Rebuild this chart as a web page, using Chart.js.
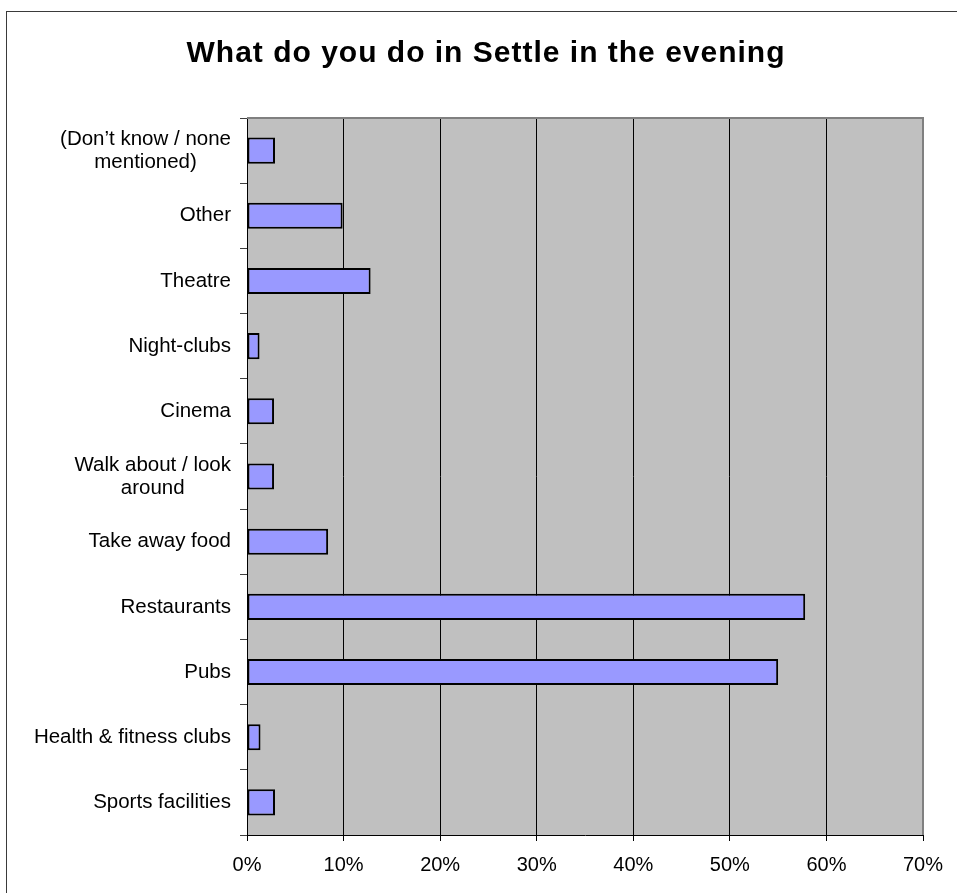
<!DOCTYPE html>
<html>
<head>
<meta charset="utf-8">
<script src="https://cdn.jsdelivr.net/npm/chart.js@4/dist/chart.umd.min.js"></script>
<style>
  html, body { margin: 0; padding: 0; background: #ffffff; overflow: hidden; }
  #wrap { position: relative; width: 957px; height: 893px; }
  #frame { position: absolute; left: 6px; top: 11px; width: 2000px; height: 2000px;
           border-left: 1px solid #3a3a3a; border-top: 1px solid #3a3a3a; }
  canvas { position: absolute; left: 0; top: 0; }
</style>
</head>
<body>
<div id="wrap">
  <div id="frame"></div>
  <canvas id="c" width="957" height="893"></canvas>
</div>
<script>
const titleText = 'What do you do in Settle in the evening';
const categories = [
  ['(Don\u2019t know / none', 'mentioned)'],
  'Other',
  'Theatre',
  'Night-clubs',
  'Cinema',
  ['Walk about / look', 'around'],
  'Take away food',
  'Restaurants',
  'Pubs',
  'Health & fitness clubs',
  'Sports facilities'
];
const percentValues = [2.9, 9.9, 12.8, 1.3, 2.8, 2.8, 8.4, 57.8, 55.0, 1.4, 2.9];
const xTickMin = 0;
const xTickMax = 70;
const xTickStep = 10;

const FONT = "'Liberation Sans', Arial, sans-serif";

const plotBg = {
  id: 'plotBg',
  beforeDraw(chart) {
    const a = chart.chartArea, ctx = chart.ctx;
    ctx.save();
    ctx.fillStyle = '#C0C0C0';
    ctx.fillRect(a.left, a.top, a.right - a.left, a.bottom - a.top);
    ctx.restore();
    // center multi-line y labels as blocks
    const ys = chart.scales.y;
    const items = ys.getLabelItems();
    items.forEach(it => {
      if (Array.isArray(it.label) && !it._centered) {
        ctx.save();
        ctx.font = it.font.string;
        let w = 0;
        it.label.forEach(l => { w = Math.max(w, ctx.measureText(l).width); });
        ctx.restore();
        it.options.textAlign = 'center';
        it.options.translation[0] -= w / 2;
        it._centered = true;
      }
    });
  },
  beforeDatasetsDraw(chart) {
    const a = chart.chartArea, ctx = chart.ctx;
    ctx.save();
    ctx.strokeStyle = '#808080';
    ctx.lineWidth = 2;
    ctx.beginPath();
    ctx.moveTo(a.left, a.top);
    ctx.lineTo(a.right, a.top);
    ctx.lineTo(a.right, a.bottom);
    ctx.stroke();
    ctx.restore();
  }
};

const chart = new Chart(document.getElementById('c'), {
  type: 'bar',
  data: {
    labels: categories,
    datasets: [{
      data: percentValues,
      backgroundColor: '#9999FF',
      borderColor: '#000000',
      borderWidth: 2,
      borderSkipped: false,
      barPercentage: 0.4,
      categoryPercentage: 1.0
    }]
  },
  options: {
    indexAxis: 'y',
    responsive: false,
    animation: false,
    devicePixelRatio: 1,
    layout: { padding: { left: 0, right: 34, top: 0, bottom: 0 } },
    plugins: {
      legend: { display: false },
      tooltip: { enabled: false },
      title: {
        display: true,
        text: titleText,
        color: '#000000',
        font: { family: FONT, size: 30, weight: 'bold', lineHeight: 1.2 },
        padding: { top: 36, bottom: 46 }
      }
    },
    scales: {
      x: {
        type: 'linear',
        position: 'bottom',
        min: xTickMin,
        max: xTickMax,
        afterFit(scale) { scale.height = 58; },
        ticks: {
          stepSize: xTickStep,
          color: '#000000',
          padding: 12,
          font: { family: FONT, size: 20 },
          callback: v => v + '%'
        },
        grid: {
          color: '#000000',
          lineWidth: 1,
          drawTicks: true,
          tickLength: 6,
          tickColor: '#000000'
        },
        border: { display: true, color: '#000000', width: 1 }
      },
      y: {
        type: 'category',
        position: 'left',
        afterFit(scale) { scale.width = 247; },
        ticks: {
          color: '#000000',
          padding: 9,
          font: { family: FONT, size: 20.5, lineHeight: 1.12 }
        },
        grid: {
          offset: true,
          drawOnChartArea: false,
          drawTicks: true,
          tickLength: 7,
          tickColor: '#404040',
          lineWidth: 1
        },
        border: { display: true, color: '#000000', width: 1 }
      }
    }
  },
  plugins: [plotBg]
});

// letter spacing and horizontal placement for the title only
if (chart.titleBlock) {
  const tb = chart.titleBlock;
  const origDraw = tb.draw;
  tb.draw = function () {
    const ctx = this.ctx || chart.ctx;
    ctx.save();
    ctx.translate(24.5, 0);
    try { ctx.letterSpacing = '1px'; } catch (e) {}
    origDraw.apply(this, arguments);
    ctx.restore();
  };
  chart.update();
}
</script>
</body>
</html>
